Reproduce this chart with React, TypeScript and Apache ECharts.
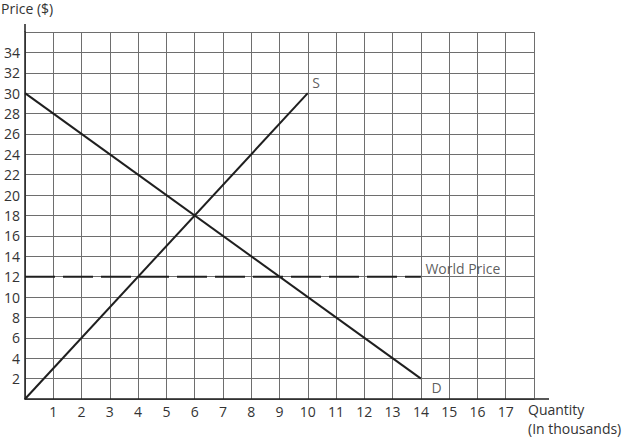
import React, { useEffect, useRef } from "react";
import * as echarts from "echarts";

const supplyPoints: [number, number][] = [[0, 0], [10, 30]];
const demandPoints: [number, number][] = [[0, 30], [14, 2]];
const worldPrice = 12;
const worldPriceRange: [number, number] = [0, 14];
const xMax = 18;
const yMax = 36;
const curveLabels = [
  { name: "S", value: [10, 30], offset: [-1, -11] },
  { name: "D", value: [14, 2], offset: [5, 8.5] },
  { name: "World Price", value: [14, 12], offset: [-1, -8.5] },
];

const FONT = "'Open Sans'";
const FS = 14;
const TEXT = "#333";
const LINE = "#1f1f1f";

export default function App() {
  const ref = useRef<HTMLDivElement>(null);
  useEffect(() => {
    if (!ref.current) return;
    const chart = echarts.init(ref.current, undefined, { renderer: "svg" });
    const gridLeft = 25;
    const gridTop = 32;
    const gridW = 509;
    const gridH = 367;
    chart.setOption({
      animation: false,
      grid: { left: gridLeft, top: gridTop, width: gridW, height: gridH },
      xAxis: {
        type: "value",
        min: 0,
        max: xMax,
        interval: 1,
        axisLine: { show: true, lineStyle: { color: LINE, width: 1.5 } },
        axisTick: { show: false },
        axisLabel: {
          margin: 5,
          color: TEXT,
          fontFamily: FONT,
          fontSize: FS,
          formatter: (v: number) => (v === 0 || v === xMax ? "" : String(v)),
        },
        splitLine: { show: true, lineStyle: { color: "#6e6e6e", width: 1 } },
      },
      yAxis: {
        type: "value",
        min: 0,
        max: yMax,
        interval: 2,
        axisLine: { show: true, lineStyle: { color: LINE, width: 1.5 } },
        axisTick: { show: false },
        axisLabel: {
          margin: 5,
          color: TEXT,
          fontFamily: FONT,
          fontSize: FS,
          formatter: (v: number) => (v === 0 || v === yMax ? "" : String(v)),
        },
        splitLine: { show: true, lineStyle: { color: "#6e6e6e", width: 1 } },
      },
      series: [
        {
          type: "line",
          data: supplyPoints,
          symbol: "none",
          lineStyle: { color: LINE, width: 2 },
          z: 3,
        },
        {
          type: "line",
          data: demandPoints,
          symbol: "none",
          lineStyle: { color: LINE, width: 2 },
          z: 3,
        },
        {
          type: "line",
          data: worldPriceRange.map((x) => [x, worldPrice]),
          symbol: "none",
          lineStyle: { color: LINE, width: 2, type: [30, 8] },
          z: 3,
        },
        {
          type: "scatter",
          symbolSize: 1,
          itemStyle: { color: "rgba(0,0,0,0)" },
          data: curveLabels.map((l) => ({
            name: l.name,
            value: l.value,
            label: { offset: l.offset },
          })),
          label: {
            show: true,
            position: "right",
            formatter: "{b}",
            color: TEXT,
            fontFamily: FONT,
            fontSize: FS,
          },
          z: 4,
        },
      ],
      graphic: [
        {
          type: "line",
          shape: { x1: gridLeft, y1: 24, x2: gridLeft, y2: gridTop },
          style: { stroke: LINE, lineWidth: 1.5 },
        },
        {
          type: "line",
          shape: { x1: gridLeft + gridW, y1: gridTop + gridH, x2: 549, y2: gridTop + gridH },
          style: { stroke: LINE, lineWidth: 1.5 },
        },
        {
          type: "text",
          left: 1,
          top: 1,
          style: { text: "Price ($)", fill: TEXT, font: `${FS}px ${FONT}` },
        },
        {
          type: "text",
          left: 528,
          top: 402,
          style: { text: "Quantity", fill: TEXT, font: `${FS}px ${FONT}` },
        },
        {
          type: "text",
          left: 528,
          top: 421,
          style: { text: "(In thousands)", fill: TEXT, font: `${FS}px ${FONT}` },
        },
      ],
    });
    return () => chart.dispose();
  }, []);
  return <div ref={ref} style={{ width: 627, height: 442, position: "absolute", left: 0, top: 0 }} />;
}
